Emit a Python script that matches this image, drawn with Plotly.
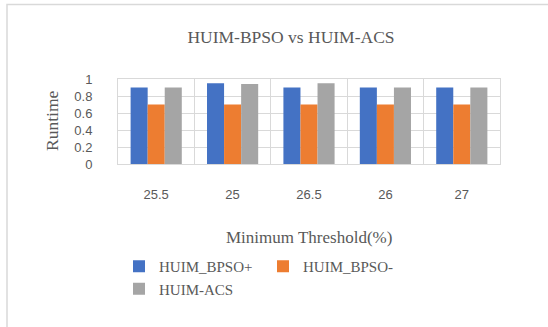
import plotly.graph_objects as go

categories = ["25.5", "25", "26.5", "26", "27"]
huim_bpso_plus = [0.9, 0.95, 0.9, 0.9, 0.9]
huim_bpso_minus = [0.7, 0.7, 0.7, 0.7, 0.7]
huim_acs = [0.9, 0.94, 0.95, 0.9, 0.9]
series_names = ["HUIM_BPSO+", "HUIM_BPSO-", "HUIM-ACS"]
colors = ["#4472C4", "#ED7D31", "#A5A5A5"]

W, H = 548, 327
L, R, T, B = 118, 48, 79, 163
pw, ph = W - L - R, H - T - B

def px2x(px):
    return (px - L) / pw

def px2y(py):
    return (H - B - py) / ph

fig = go.Figure()
for name, vals, c in zip(series_names, [huim_bpso_plus, huim_bpso_minus, huim_acs], colors):
    fig.add_trace(go.Bar(x=categories, y=vals, name=name, marker=dict(color=c, line=dict(width=0))))

serif = "Liberation Serif"
sans = "Liberation Sans"
gray_txt = "#595959"

fig.update_layout(
    width=W, height=H,
    margin=dict(l=L, r=R, t=T, b=B, autoexpand=False),
    paper_bgcolor="white", plot_bgcolor="white",
    barmode="group", bargap=0.33, bargroupgap=0,
    title=dict(text="HUIM-BPSO vs HUIM-ACS", x=291 / W, xanchor="center",
               y=1 - 37 / H, yanchor="middle", yref="container",
               font=dict(family=serif, size=17.5, color=gray_txt)),
    xaxis=dict(type="category", tickson="boundaries", showgrid=True, gridcolor="#D9D9D9",
               gridwidth=1, ticks="", showline=True, linecolor="#D9D9D9", mirror=True,
               ticklabelstandoff=18,
               tickfont=dict(family=sans, size=13, color=gray_txt)),
    yaxis=dict(range=[0, 1], dtick=0.2, showgrid=True, gridcolor="#D9D9D9", gridwidth=1,
               ticks="", showline=True, linecolor="#D9D9D9", mirror=True, zeroline=False,
               ticklabelstandoff=22,
               tickfont=dict(family=sans, size=13, color=gray_txt)),
    legend=dict(orientation="h", x=px2x(119), xanchor="left", y=px2y(250), yanchor="top",
                entrywidth=99, entrywidthmode="pixels", traceorder="normal",
                font=dict(family=serif, size=15, color=gray_txt),
                itemwidth=30, tracegroupgap=0, bgcolor="rgba(0,0,0,0)"),
    annotations=[
        dict(text="Runtime", x=px2x(52), y=px2y(121), xref="paper", yref="paper",
             showarrow=False, textangle=-90, xanchor="center", yanchor="middle",
             font=dict(family=serif, size=17.5, color=gray_txt)),
        dict(text="Minimum Threshold(%)", x=px2x(309), y=px2y(237), xref="paper", yref="paper",
             showarrow=False, xanchor="center", yanchor="middle",
             font=dict(family=serif, size=17, color=gray_txt)),
    ],
    shapes=[
        dict(type="rect", xref="paper", yref="paper", x0=px2x(7), x1=px2x(560),
             y0=px2y(345), y1=px2y(4.5), line=dict(color="#D9D9D9", width=1.5),
             fillcolor="rgba(0,0,0,0)", layer="below"),
    ],
)

fig.write_html("out.html", config={"displayModeBar": False},
               post_script="document.body.style.margin='0';document.body.style.overflow='hidden';")
